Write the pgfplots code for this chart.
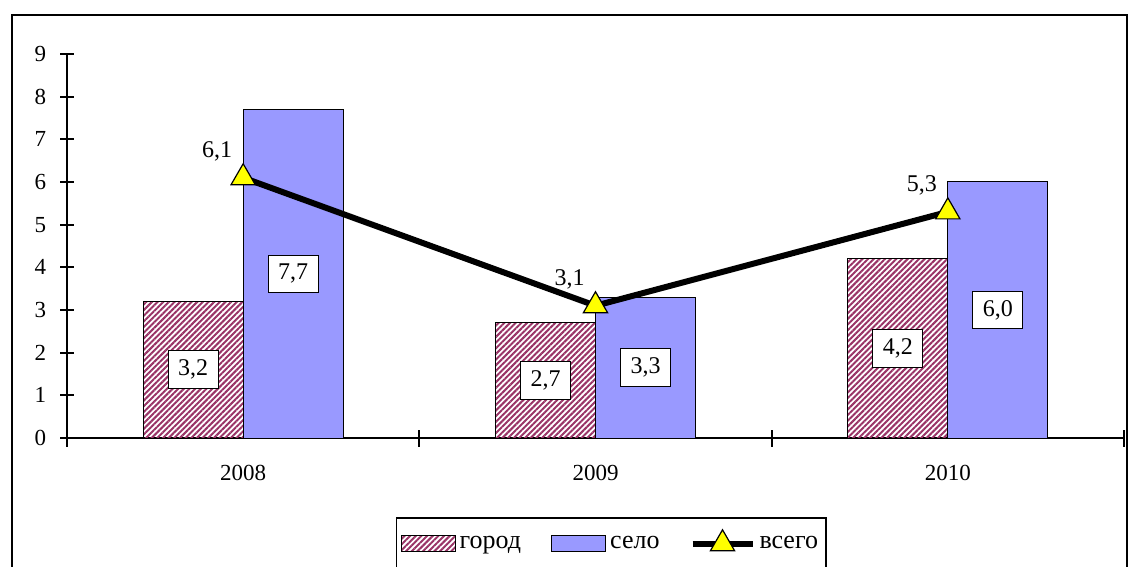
\documentclass[border=0pt]{standalone}
\usepackage{fontspec}
\setmainfont{Liberation Serif}
\usepackage{pgfplots}
\pgfplotsset{compat=1.18}
\usetikzlibrary{patterns.meta}

\definecolor{gorod}{HTML}{993366}
\definecolor{selo}{HTML}{9999FF}
\definecolor{vsego}{HTML}{FFFF00}

\pgfplotsset{
    barleg/.style={legend image code/.code={\draw[##1] (0pt,-4pt) rectangle (27pt,4pt);}},
    lineleg/.style={legend image code/.code={\draw[mark repeat=2,mark phase=2,##1] plot coordinates {(0pt,0pt) (15pt,0pt) (30pt,0pt)};}},
    barlabels/.style={
        visualization depends on={y \as \rawy},
        nodes near coords={\pgfmathprintnumber[use comma,fixed,fixed zerofill,precision=1]{\pgfplotspointmeta}},
        every node near coord/.append style={anchor=center, draw=black, fill=white,
            line width=0.5pt, inner xsep=5pt, inner ysep=4.5pt, text=black,
            font=\fontsize{12}{14}\selectfont, xshift=#1, yshift={-\rawy*10.6667pt}}},
}

\begin{document}
\fontsize{12}{14}\selectfont
\begin{tikzpicture}
\useasboundingbox (-33.5pt,-64.5pt) rectangle (531pt,219pt);
% chart area frame
\draw[line width=1pt] (-27.5pt,-90pt) rectangle (530pt,211.5pt);
\begin{axis}[
    at={(0,0)}, anchor=south west,
    scale only axis, width=528.5pt, height=192pt,
    xmin=-0.5, xmax=2.5, ymin=0, ymax=9,
    axis x line*=bottom, axis y line*=left,
    axis line style={line width=1pt},
    /pgf/number format/assume math mode=true,
    ticklabel style={font=\fontsize{11.5}{13}\selectfont},
    ytick={0,1,...,9},
    xtick={0,1,2}, xticklabels={2008,2009,2010},
    minor xtick={-0.5,0.5,1.5,2.5},
    tick align=center,
    major tick length=6.5pt, minor tick length=8.5pt,
    tick style={line width=1pt, black},
    major x tick style={draw=none},
    xticklabel style={yshift=-6pt},
    yticklabel style={xshift=-3pt},
    legend style={at={(axis description cs:0.515,-0.2057)}, anchor=north,
        draw=black, line width=0.8pt, legend columns=3,
        font=\fontsize{13}{15}\selectfont, inner xsep=2pt, inner ysep=6pt,
        /tikz/every even column/.append style={column sep=13pt}},
    legend cell align=left,
]
\addplot[ybar, bar width=50pt, bar shift=-25pt, draw=black, line width=0.5pt,
    pattern={Lines[angle=45,distance=2pt,line width=1pt]}, pattern color=gorod,
    barleg, barlabels=-25pt]
    coordinates {(0,3.2) (1,2.7) (2,4.2)};
\addlegendentry{город}
\addplot[ybar, bar width=50pt, bar shift=25pt, draw=black, line width=0.5pt,
    fill=selo, barleg, barlabels=25pt]
    coordinates {(0,7.7) (1,3.3) (2,6.0)};
\addlegendentry{село}
\addplot[black, line width=3pt, mark=triangle*, mark size=7pt,
    mark options={fill=vsego, draw=black, line width=0.6pt},
    lineleg,
    nodes near coords={\pgfmathprintnumber[use comma,fixed,fixed zerofill,precision=1]{\pgfplotspointmeta}},
    every node near coord/.append style={anchor=center, xshift=-13pt, yshift=13pt,
        text=black, font=\fontsize{12}{14}\selectfont}]
    coordinates {(0,6.1) (1,3.1) (2,5.3)};
\addlegendentry{всего}
\end{axis}
\end{tikzpicture}
\end{document}
